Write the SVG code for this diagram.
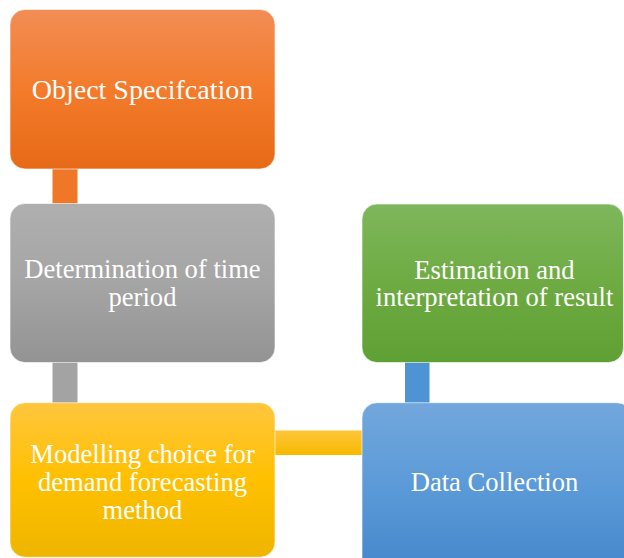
<svg xmlns="http://www.w3.org/2000/svg" width="624" height="558" viewBox="0 0 624 558">
<defs>
<linearGradient id="gO" x1="0" y1="0" x2="0" y2="1"><stop offset="0" stop-color="#F28D55"/><stop offset="0.5" stop-color="#F37B2B"/><stop offset="1" stop-color="#E76A17"/></linearGradient>
<linearGradient id="gG" x1="0" y1="0" x2="0" y2="1"><stop offset="0" stop-color="#AFAFAF"/><stop offset="0.5" stop-color="#A5A5A5"/><stop offset="1" stop-color="#939393"/></linearGradient>
<linearGradient id="gY" x1="0" y1="0" x2="0" y2="1"><stop offset="0" stop-color="#FFC63E"/><stop offset="0.5" stop-color="#FFC000"/><stop offset="1" stop-color="#EEB500"/></linearGradient>
<linearGradient id="gGr" x1="0" y1="0" x2="0" y2="1"><stop offset="0" stop-color="#7EB75C"/><stop offset="0.5" stop-color="#6EAB42"/><stop offset="1" stop-color="#5FA034"/></linearGradient>
<linearGradient id="gB" x1="0" y1="0" x2="0" y2="1"><stop offset="0" stop-color="#72A7DC"/><stop offset="0.5" stop-color="#5B9AD8"/><stop offset="1" stop-color="#4486CB"/></linearGradient>
<linearGradient id="gYc" x1="0" y1="0" x2="0" y2="1"><stop offset="0" stop-color="#FFC53A"/><stop offset="1" stop-color="#F6BA00"/></linearGradient>
</defs>
<style>
.box{stroke:#ffffff;stroke-opacity:0.6;stroke-width:1}
.t{font-family:"Liberation Serif","Times New Roman",serif;font-size:26.6px;fill:#ffffff;text-anchor:middle}
.big{font-size:28px}
</style>
<g id="connectors">
<rect x="52.5" y="165" width="25" height="42" fill="#EF7727"/>
<rect x="52.5" y="358" width="25" height="48" fill="#A3A3A3"/>
<rect x="270" y="430.5" width="96" height="24.5" fill="url(#gYc)"/>
<rect x="405" y="358" width="24.5" height="48" fill="#4E93D4"/>
</g>
<g id="node-object">
<rect class="box" x="10" y="9.5" width="265" height="159.5" rx="15" fill="url(#gO)"/>
<text class="t big" x="142.5" y="99">Object Specifcation</text>
</g>
<g id="node-time">
<rect class="box" x="10" y="203.5" width="265" height="159" rx="15" fill="url(#gG)"/>
<text class="t" x="142.5" y="277.5">Determination of time</text>
<text class="t" x="142.5" y="305.5">period</text>
</g>
<g id="node-model">
<rect class="box" x="10" y="402.7" width="265" height="154.5" rx="15" fill="url(#gY)"/>
<text class="t" x="142.5" y="463">Modelling choice for</text>
<text class="t" x="142.5" y="491">demand forecasting</text>
<text class="t" x="142.5" y="519">method</text>
</g>
<g id="node-estimation">
<rect class="box" x="362" y="204" width="261.5" height="158.5" rx="15" fill="url(#gGr)"/>
<text class="t" x="494.5" y="278.5">Estimation and</text>
<text class="t" x="494.5" y="305.5">interpretation of result</text>
</g>
<g id="node-data">
<rect class="box" x="362" y="402.7" width="270" height="170" rx="15" fill="url(#gB)"/>
<text class="t" x="494.5" y="491">Data Collection</text>
</g>
</svg>
